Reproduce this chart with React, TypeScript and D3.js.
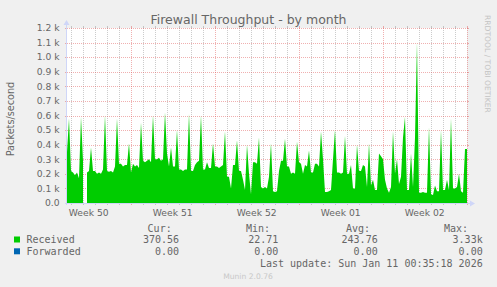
import React, { useEffect } from "react";
import * as d3 from "d3";

// ---- data ----
const END_TIME = "2026-01-11T00:35:18Z";
const SECONDS_PER_PIXEL = 7200; // munin month graph: 2h per pixel
const PLOT_PIXELS = 400;
const SAMPLE_SECONDS = 14400; // one sample every 4h

const received: (number | null)[] = [
  350, 580, 220, 210, 190, 210, 170, 590, 290, null,
  210, 220, 380, 220, 220, 200, 210, 200, 230, 600,
  220, 215, 220, 210, 250, 580, 270, 270, 250, 260,
  260, 410, 210, 270, 250, 260, 240, 550, 290, 280,
  290, 300, 280, 600, 300, 300, 310, 290, 300, 620,
  340, 250, 380, 250, 250, 500, 230, 230, 220, 230,
  230, 610, 220, 220, 260, 280, 290, 600, 230, 230,
  280, 240, 240, 410, 250, 250, 240, 250, 260, 490,
  180, 180, 100, 260, 260, 430, 220, 220, 160, 90,
  400, 200, 60, 280, 280, 270, 450, 110, 100, 110,
  100, 180, 410, 80, 75, 80, 220, 290, 290, 440,
  250, 250, 200, 210, 200, 420, 280, 270, 200, 260,
  250, 360, 210, 210, 270, 270, 250, 490, 300, 75,
  75, 80, 90, 300, 500, 210, 210, 200, 210, 460,
  200, 200, 260, 100, 100, 400, 220, 220, 260, 250,
  110, 410, 120, 160, 90, 90, 340, 320, 300, 160,
  100, 70, 110, 490, 200, 300, 130, 180, 450, 590,
  90, 90, 340, 110, 450, 1100, 70, 70, 75, 70,
  70, 520, 60, 55, 120, 80, 80, 500, 90, 90,
  160, 90, 580, 100, 100, 110, 200, 80, 70, 370,
  370,
];

const yTicks = [0, 100, 200, 300, 400, 500, 600, 700, 800, 900, 1000, 1100, 1200];
const yTickLabels = ["0.0", "0.1 k", "0.2 k", "0.3 k", "0.4 k", "0.5 k", "0.6 k", "0.7 k", "0.8 k", "0.9 k", "1.0 k", "1.1 k", "1.2 k"];
const weekLabels = ["Week 50", "Week 51", "Week 52", "Week 01", "Week 02"];
const legendHeaders = ["Cur:", "Min:", "Avg:", "Max:"];
const seriesNames = ["Received", "Forwarded"];
const seriesColors = ["#00CC00", "#0066B3"];
const receivedStats = ["370.56", "22.71", "243.76", "3.33k"];
const forwardedStats = ["0.00", "0.00", "0.00", "0.00"];
const lastUpdate = "Last update: Sun Jan 11 00:35:18 2026";

// ---- layout ----
const W = 497, H = 287;
const X0 = 67, X1 = 467, Y0 = 203, Y1 = 28;
const SANS = "'DejaVu Sans', sans-serif";
const MONO = "'DejaVu Sans Mono', monospace";
const FONT_COLOR = "#666666";
const AXIS_COLOR = "#CFD6F8";
const GRID = "rgba(143,143,143,0.45)";
const MGRID = "rgba(222,79,79,0.45)";

export default function App() {
  useEffect(() => {
    document.body.style.margin = "0";
  }, []);

  const end = new Date(END_TIME);
  const start = new Date(end.getTime() - PLOT_PIXELS * SECONDS_PER_PIXEL * 1000);
  const x = d3.scaleUtc().domain([start, end]).range([X0, X1]);
  const y = d3.scaleLinear().domain([0, 1200]).range([Y0, Y1]);

  const pts = received.map((v, i) => ({
    t: new Date(start.getTime() + i * SAMPLE_SECONDS * 1000),
    v,
  }));
  const area = d3
    .area<{ t: Date; v: number | null }>()
    .defined((d) => d.v !== null)
    .x((d) => Math.min(X1, x(d.t)))
    .y0(y(0))
    .y1((d) => y(d.v as number))
    .curve(d3.curveLinear);

  const days = d3.utcDay.range(start, end);
  const sundays = d3.utcSunday.range(start, end);
  const minorDays = days.filter((d) => d.getUTCDay() !== 0);
  const labelWeeks = d3.utcSunday.range(d3.utcSunday.floor(start), end);

  const statX = [179, 278.3, 377.7, 482.7];
  const headX = [171.7, 270, 370, 468];

  return (
    <svg width={W} height={H} style={{ display: "block" }} xmlns="http://www.w3.org/2000/svg">
      <rect x={0} y={0} width={W} height={H} fill="#F0F0F0" />
      <rect x={X0} y={Y1} width={X1 - X0} height={Y0 - Y1} fill="#FFFFFF" />

      {/* minor vertical grid */}
      {minorDays.map((d, i) => {
        const xx = Math.round(x(d)) + 0.5;
        return (
          <g key={"mg" + i} stroke={GRID} strokeWidth={1}>
            <line x1={xx} x2={xx} y1={Y0} y2={Y1} strokeDasharray="1 1" />
            <line x1={xx} x2={xx} y1={Y0} y2={Y0 + 2} />
            <line x1={xx} x2={xx} y1={Y1 - 2} y2={Y1} />
          </g>
        );
      })}
      {/* major vertical grid */}
      {sundays.map((d, i) => {
        const xx = Math.round(x(d)) + 0.5;
        return (
          <g key={"Mg" + i} stroke={MGRID} strokeWidth={1}>
            <line x1={xx} x2={xx} y1={Y0} y2={Y1} strokeDasharray="1 1" />
            <line x1={xx} x2={xx} y1={Y0} y2={Y0 + 2} />
            <line x1={xx} x2={xx} y1={Y1 - 2} y2={Y1} />
          </g>
        );
      })}
      {/* horizontal grid */}
      {yTicks.filter((v) => v > 0).map((v, i) => {
        const yy = Math.round(y(v)) + 0.5;
        return (
          <g key={"hg" + i} stroke={MGRID} strokeWidth={1}>
            <line x1={X0} x2={X1} y1={yy} y2={yy} strokeDasharray="1 1" />
            <line x1={X0 - 2} x2={X0} y1={yy} y2={yy} />
            <line x1={X1} x2={X1 + 2} y1={yy} y2={yy} />
          </g>
        );
      })}

      {/* data */}
      <path d={area(pts) || ""} fill={seriesColors[0]} />

      {/* axes */}
      <line x1={X0 - 2} x2={X1 + 4} y1={Y0 + 0.5} y2={Y0 + 0.5} stroke={AXIS_COLOR} />
      <path d={`M${X1 + 3},${Y0 - 2.5} L${X1 + 8},${Y0 + 0.5} L${X1 + 3},${Y0 + 3.5} Z`} fill={AXIS_COLOR} />
      <line x1={X0 - 0.5} x2={X0 - 0.5} y1={Y0 + 2} y2={Y1 - 4} stroke={AXIS_COLOR} />
      <path d={`M${X0 - 3.5},${Y1 - 3} L${X0 - 0.5},${Y1 - 8} L${X0 + 2.5},${Y1 - 3} Z`} fill={AXIS_COLOR} />

      {/* y tick labels */}
      {yTicks.map((v, i) => (
        <text key={"yl" + i} x={59.5} y={y(v) + 3.3} textAnchor="end" fontFamily={SANS} fontSize={9.2} fill={FONT_COLOR}>
          {yTickLabels[i]}
        </text>
      ))}

      {/* x labels */}
      {labelWeeks.map((d, i) => (
        <text key={"xl" + i} x={x(new Date(d.getTime() + 3.5 * 86400000))} y={215.5} textAnchor="middle" fontFamily={SANS} fontSize={9.2} fill={FONT_COLOR}>
          {weekLabels[i]}
        </text>
      ))}

      {/* title */}
      <text x={248.5} y={24} textAnchor="middle" fontFamily={SANS} fontSize={12.5} fill={FONT_COLOR}>
        Firewall Throughput - by month
      </text>

      {/* y axis title */}
      <text transform="translate(14.3,119) rotate(-90)" textAnchor="middle" fontFamily={SANS} fontSize={9.7} fill={FONT_COLOR}>
        Packets/second
      </text>

      {/* watermark */}
      <text transform="translate(485,15) rotate(90)" textAnchor="start" fontFamily={SANS} fontSize={7.6} fill="#C4C4C4">
        RRDTOOL / TOBI OETIKER
      </text>

      {/* legend */}
      {legendHeaders.map((h, i) => (
        <text key={"lh" + i} x={headX[i]} y={231.5} textAnchor="end" fontFamily={MONO} fontSize={10} fill={FONT_COLOR}>
          {h}
        </text>
      ))}
      {seriesNames.map((n, r) => {
        const base = r === 0 ? 243 : 254.8;
        const stats = r === 0 ? receivedStats : forwardedStats;
        return (
          <g key={"lr" + r}>
            <rect x={14} y={base - 6.5} width={6} height={6} fill={seriesColors[r]} />
            <text x={26.5} y={base} fontFamily={MONO} fontSize={10} fill={FONT_COLOR}>
              {n}
            </text>
            {stats.map((s, i) => (
              <text key={"ls" + i} x={statX[i]} y={base} textAnchor="end" fontFamily={MONO} fontSize={10} fill={FONT_COLOR}>
                {s}
              </text>
            ))}
          </g>
        );
      })}
      <text x={482.7} y={266.8} textAnchor="end" fontFamily={MONO} fontSize={10} fill={FONT_COLOR}>
        {lastUpdate}
      </text>
      <text x={248} y={278.5} textAnchor="middle" fontFamily={SANS} fontSize={7.6} fill="#C8C8C8">
        Munin 2.0.76
      </text>
    </svg>
  );
}
